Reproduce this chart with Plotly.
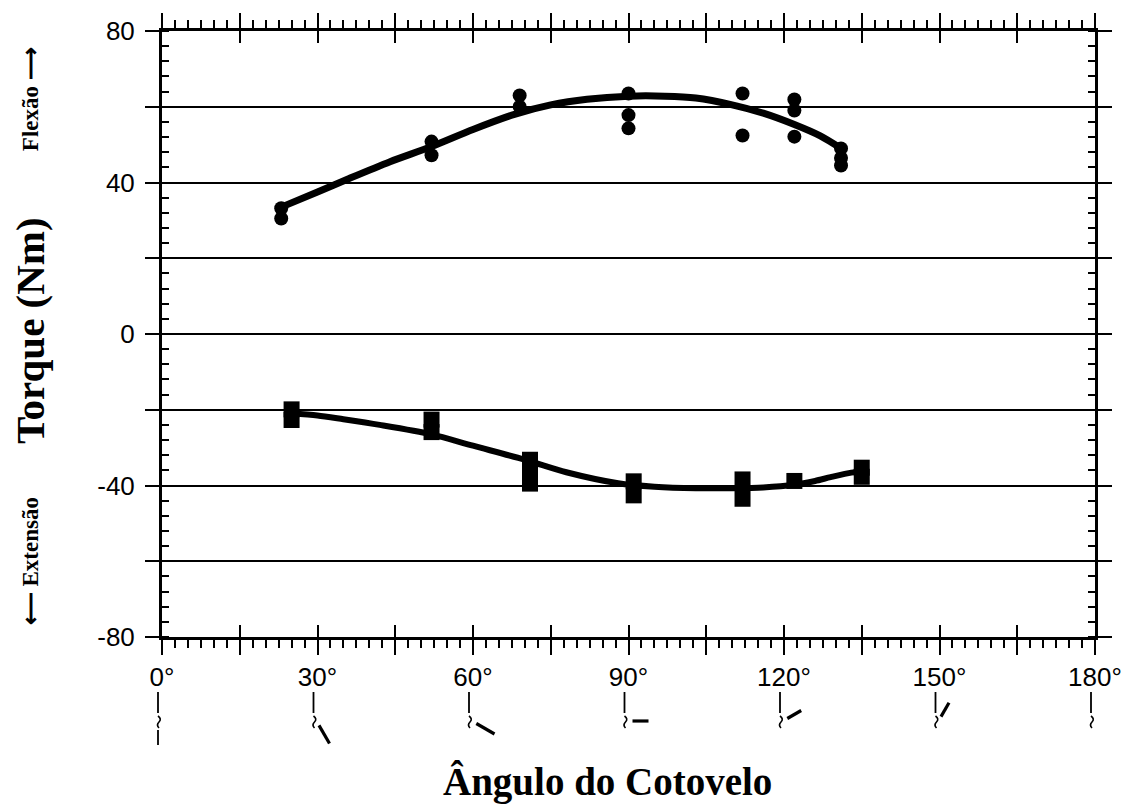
import math
import plotly.graph_objects as go

# Elbow angle (degrees) and measured torque (Nm) for each trial
flex_angle = [23, 23, 52, 52, 69, 69, 90, 90, 90, 112, 112, 122, 122, 122, 131, 131, 131]
flex_torque = [33.2, 30.5, 50.8, 47.2, 63.0, 60.0, 63.5, 57.8, 54.3, 63.5, 52.4,
               61.9, 59.0, 52.1, 49.0, 46.5, 44.5]

ext_angle = [25, 25, 52, 52, 71, 71, 71, 91, 91, 112, 112, 122, 135, 135]
ext_torque = [-19.9, -22.7, -22.6, -25.9, -33.2, -36.5, -39.5, -38.9, -42.6,
              -38.4, -43.5, -38.8, -35.3, -37.7]

# Fitted trend curves
flex_fit_angle = [23, 30, 36, 44, 52, 60, 68, 75, 82, 90, 97, 103, 110, 116, 122, 127, 131]
flex_fit_torque = [33.5, 37.5, 41.0, 45.5, 49.5, 54.0, 58.0, 60.5, 62.0, 62.8, 62.8,
                   62.3, 60.5, 58.3, 55.3, 52.3, 49.0]

ext_fit_angle = [25, 30, 35, 42, 52, 60, 70, 78, 88, 95, 103, 110, 116, 122, 126, 129, 133, 135]
ext_fit_torque = [-21.0, -21.5, -22.5, -24.0, -26.5, -29.5, -33.2, -36.5, -39.4, -40.3,
                  -40.7, -40.7, -40.5, -39.8, -38.8, -37.8, -36.6, -36.3]

# Axis ticks
x_major = list(range(0, 181, 15))
x_labels = [f"{v}°" if v % 30 == 0 else "" for v in x_major]
y_major = list(range(-80, 81, 20))
y_labels = [str(v) if v % 40 == 0 else "" for v in y_major]

# Angles illustrated by the small arm pictograms under the axis
arm_angles = [0, 30, 60, 90, 120, 150, 180]

X_MIN, X_MAX = 0, 180
Y_MIN, Y_MAX = -80, 80

fig = go.Figure()

fig.add_trace(go.Scatter(x=flex_fit_angle, y=flex_fit_torque, mode="lines",
                         line=dict(color="black", width=7, shape="spline", smoothing=0.8),
                         hoverinfo="skip", showlegend=False))
fig.add_trace(go.Scatter(x=flex_angle, y=flex_torque, mode="markers",
                         marker=dict(symbol="circle", size=14, color="black"),
                         name="Flexão", showlegend=False))
fig.add_trace(go.Scatter(x=ext_fit_angle, y=ext_fit_torque, mode="lines",
                         line=dict(color="black", width=6, shape="spline", smoothing=0.8),
                         hoverinfo="skip", showlegend=False))
fig.add_trace(go.Scatter(x=ext_angle, y=ext_torque, mode="markers",
                         marker=dict(symbol="square", size=16, color="black"),
                         name="Extensão", showlegend=False))
# carrier for the inner major ticks axis
fig.add_trace(go.Scatter(x=[], y=[], xaxis="x2", showlegend=False))

tick_font = dict(family="Liberation Sans, Arial, sans-serif", size=26, color="black")
serif = "Liberation Serif, Times New Roman, serif"

# Arm pictograms: upper arm vertical, elbow curl, forearm at the given angle
shapes = []
for a in arm_angles:
    xa = (a - X_MIN) / (X_MAX - X_MIN)
    common = dict(xref="paper", yref="paper", xsizemode="pixel", ysizemode="pixel",
                  xanchor=xa, yanchor=0)
    ox = -4
    shapes.append(dict(type="line", x0=ox, x1=ox, y0=-55, y1=-76,
                       line=dict(color="black", width=1.8), **common))
    shapes.append(dict(type="path",
                       path=f"M {ox} -79 Q {ox+4} -82 {ox+1} -85 Q {ox-2} -88 {ox+1} -91",
                       line=dict(color="black", width=1.6), **common))
    t = math.radians(a)
    dx, dy = math.sin(t), -math.cos(t)
    if a == 0:
        shapes.append(dict(type="line", x0=ox, x1=ox, y0=-93, y1=-108,
                           line=dict(color="black", width=1.8), **common))
    elif a < 180:
        ex, ey = ox + 3, -84
        L = 26 if a <= 60 else 21
        shapes.append(dict(type="line", x0=ex + 5 * dx, y0=ey + 5 * dy,
                           x1=ex + L * dx, y1=ey + L * dy,
                           line=dict(color="black", width=3.2), **common))

annotations = [
    dict(text="Torque (Nm)", xref="paper", x=0, xshift=-132, xanchor="center",
         yref="y", y=0, yshift=3, yanchor="middle",
         textangle=-90, showarrow=False,
         font=dict(family=serif, size=41, color="black", weight="bold")),
    dict(text="Flexão ⟶", xref="paper", x=0, xshift=-132, xanchor="center",
         yref="y", y=62, yanchor="middle",
         textangle=-90, showarrow=False,
         font=dict(family=serif, size=23, color="black", weight="bold")),
    dict(text="⟵ Extensão", xref="paper", x=0, xshift=-132, xanchor="center",
         yref="y", y=-60, yanchor="middle",
         textangle=-90, showarrow=False,
         font=dict(family=serif, size=23, color="black", weight="bold")),
    dict(text="Ângulo do Cotovelo", xref="paper", x=0.5, xshift=-21, xanchor="center",
         yref="paper", y=0, yshift=-145, yanchor="middle", showarrow=False,
         font=dict(family=serif, size=39, color="black", weight="bold")),
]

fig.update_layout(
    width=1124, height=809, autosize=False,
    margin=dict(l=162, r=29, t=31, b=172, autoexpand=False),
    paper_bgcolor="white", plot_bgcolor="white",
    showlegend=False,
    shapes=shapes,
    annotations=annotations,
    xaxis=dict(range=[X_MIN, X_MAX], tickmode="array", tickvals=x_major, ticktext=x_labels,
               ticks="outside", ticklen=15, tickwidth=2, tickcolor="black",
               showline=True, linewidth=3, linecolor="black", mirror="ticks",
               showgrid=False, zeroline=False, tickfont=tick_font, ticklabelstandoff=0,
               automargin=False,
               minor=dict(tickmode="linear", tick0=0, dtick=2.5, ticks="outside",
                          ticklen=8, tickwidth=2, tickcolor="black", showgrid=False)),
    xaxis2=dict(range=[X_MIN, X_MAX], overlaying="x", anchor="y", side="bottom",
                tickmode="array", tickvals=x_major, ticks="inside", ticklen=12, tickwidth=2,
                tickcolor="black", showticklabels=False, showline=False, mirror="ticks",
                showgrid=False, zeroline=False, automargin=False),
    yaxis=dict(range=[Y_MIN, Y_MAX], tickmode="array", tickvals=y_major, ticktext=y_labels,
               ticks="outside", ticklen=14, tickwidth=2, tickcolor="black",
               showline=True, linewidth=3, linecolor="black", mirror="ticks",
               showgrid=True, gridcolor="black", gridwidth=1.8, zeroline=False,
               tickfont=tick_font, ticklabelstandoff=5, automargin=False,
               minor=dict(tickmode="linear", tick0=0, dtick=4, ticks="inside",
                          ticklen=7, tickwidth=2, tickcolor="black", showgrid=False)),
)

fig.write_html("out.html")
